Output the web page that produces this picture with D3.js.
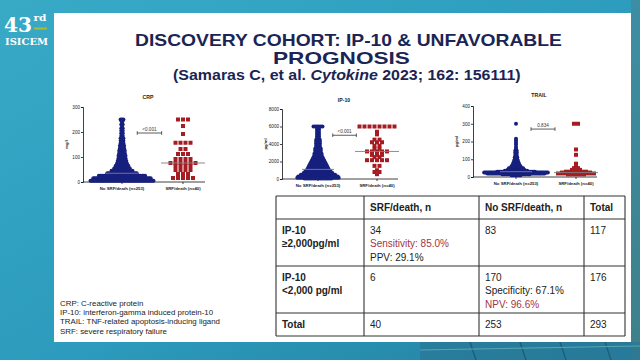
<!DOCTYPE html>
<html><head><meta charset="utf-8">
<script src="https://cdn.jsdelivr.net/npm/d3@7"></script>
<style>html,body{margin:0;padding:0;overflow:hidden;background:#2e9dbd}</style>
</head><body>
<svg id="c" width="640" height="360"></svg>
<script>
// ---------------- DATA ----------------
const groups = ["No SRF/death (n=253)", "SRF/death (n=40)"];
// [value, count]
const crpNoSrf = [[250,3],[245,2],[238,1],[230,2],[222,1],[215,2],[205,2],[195,2],[185,2],[175,3],[165,3],[155,3],[145,4],[135,4],[125,5],[115,5],[105,6],[95,6],[85,7],[75,8],[65,10],[55,12],[45,16],[35,22],[25,34],[15,42],[5,46]];
const crpSrf = [[250,3],[224,1],[192,1],[157,4],[132,2],[112,3],[92,4],[76,6],[64,4],[48,4],[32,3],[16,5]];
const ip10NoSrf = [[6000,6],[5900,2],[5700,2],[5500,2],[5300,2],[5100,2],[4900,2],[4700,2],[4500,3],[4300,3],[4100,3],[3900,3],[3700,3],[3500,4],[3300,4],[3100,4],[2900,5],[2700,5],[2500,6],[2300,7],[2100,8],[2000,5],[1900,9],[1700,10],[1500,11],[1300,12],[1100,13],[900,15],[700,17],[500,20],[300,23],[150,24],[50,16]];
const ip10Srf = [[6000,8],[5400,1],[5100,1],[4500,2],[4200,3],[3800,2],[3450,2],[3150,5],[2750,3],[2500,2],[2150,5],[1500,2],[1000,1],[800,2],[550,1]];
const trailNoSrf = [[300,1],[215,1],[205,1],[195,1],[185,1],[170,1],[160,1],[150,2],[140,2],[130,2],[120,2],[110,3],[100,3],[90,4],[80,5],[70,6],[60,8],[50,12],[45,10],[40,14],[35,18],[30,30],[25,50],[20,45],[15,22],[10,8]];
const trailSrf = [[300,2],[155,1],[125,1],[75,1],[65,1],[50,2],[40,3],[30,6],[25,8],[20,10],[15,5]];
const crpTicks = [0,100,200,300];
const ip10Ticks = [0,2000,4000,6000,8000];
const trailTicks = [0,100,200,300,400];
const pValues = ["<0.001","<0.001","0.834"];
const bracketLevels = [196, 5000, 270];
const chartTitles = ["CRP","IP-10","TRAIL"];
const units = ["mg/l","pg/ml","pg/ml"];

const tableHeader = ["", "SRF/death, n", "No SRF/death, n", "Total"];
const tableBody = [
  [["IP-10","≥2,000pg/ml"], ["34","Sensitivity: 85.0%","PPV: 29.1%"], ["83"], ["117"]],
  [["IP-10","<2,000 pg/ml"], ["6"], ["170","Specificity: 67.1%","NPV: 96.6%"], ["176"]],
  [["Total"], ["40"], ["253"], ["293"]]
];
const footnotes = ["CRP: C-reactive protein","IP-10: interferon-gamma induced protein-10","TRAIL: TNF-related apoptosis-inducing ligand","SRF: severe respiratory failure"];
const titleLines = ["DISCOVERY COHORT: IP-10 & UNFAVORABLE","PROGNOSIS"];

// ---------------- RENDER ----------------
const svg = d3.select("#c");
const FONT = "'Liberation Sans', Arial, sans-serif";
const defs = svg.append("defs");
const bg = defs.append("linearGradient").attr("id","bg").attr("x1","0").attr("y1","0").attr("x2","1").attr("y2","1");
bg.append("stop").attr("offset","0").attr("stop-color","#38aac6");
bg.append("stop").attr("offset","0.55").attr("stop-color","#2c9bbd");
bg.append("stop").attr("offset","1").attr("stop-color","#23809f");
const bg2 = defs.append("linearGradient").attr("id","bg2").attr("x1","0").attr("y1","0").attr("x2","0").attr("y2","1");
bg2.append("stop").attr("offset","0").attr("stop-color","#3c8ea4");
bg2.append("stop").attr("offset","1").attr("stop-color","#3f7f8a");

svg.append("rect").attr("width",640).attr("height",360).attr("fill","url(#bg)");
svg.append("rect").attr("x",631).attr("y",0).attr("width",9).attr("height",360).attr("fill","url(#bg2)");
// building hints bottom right
svg.append("rect").attr("x",420).attr("y",342).attr("width",220).attr("height",18).attr("fill","#2a7896").attr("opacity",0.7);
[470,520,560,605].forEach(xx=>svg.append("line").attr("x1",xx).attr("x2",xx+6).attr("y1",342).attr("y2",360).attr("stroke","#1d5f78").attr("stroke-width",1.5));
svg.append("line").attr("x1",420).attr("x2",640).attr("y1",350).attr("y2",346).attr("stroke","#5aa3b8").attr("stroke-width",1);

// logo
svg.append("text").attr("x",4).attr("y",32).attr("fill","#fff").attr("font-family","'DejaVu Serif', serif").attr("font-weight","bold").attr("font-size",21).attr("textLength",28).attr("lengthAdjust","spacingAndGlyphs").text("43");
svg.append("text").attr("x",33.5).attr("y",21).attr("fill","#fff").attr("font-family","'DejaVu Serif', serif").attr("font-weight","bold").attr("font-size",10).attr("textLength",13).attr("lengthAdjust","spacingAndGlyphs").text("rd");
svg.append("rect").attr("x",34).attr("y",27.5).attr("width",13).attr("height",2).attr("fill","#a7ba3c");
svg.append("text").attr("x",5).attr("y",44.5).attr("fill","#fff").attr("font-family","'DejaVu Serif', serif").attr("font-weight","bold").attr("font-size",10).attr("textLength",43).attr("lengthAdjust","spacingAndGlyphs").text("ISICEM");

// slide
svg.append("rect").attr("x",54).attr("y",13).attr("width",577).attr("height",329).attr("fill","#fff");

function fit(sel, x0, x1){
  const bb = sel.node().getBBox();
  const k = (x1-x0)/bb.width;
  sel.attr("transform",`translate(${x0},0) scale(${k},1) translate(${-bb.x},0)`);
}
const navyT = "#1b2553";
const t1 = svg.append("text").attr("x",0).attr("y",46).attr("fill",navyT).attr("font-family",FONT).attr("font-weight","bold").attr("font-size",16.5).text(titleLines[0]);
fit(t1,135,562);
const t2 = svg.append("text").attr("x",0).attr("y",64.5).attr("fill",navyT).attr("font-family",FONT).attr("font-weight","bold").attr("font-size",16.5).text(titleLines[1]);
fit(t2,273,410);
const t3 = svg.append("text").attr("x",0).attr("y",80.5).attr("fill",navyT).attr("font-family",FONT).attr("font-weight","bold").attr("font-size",14).attr("text-anchor","start");
t3.append("tspan").text("(Samaras C, et al. ");
t3.append("tspan").attr("font-style","italic").text("Cytokine");
t3.append("tspan").text(" 2023; 162: 156111)");
fit(t3,173,521);

// charts
const layouts = [
  {axisX:83, y0:182, y1:107, g:[122,183], xEnd:205, titleY:99, catY:189.5, sp:[1.4,5], sq:4},
  {axisX:282, y0:179, y1:109, g:[318,377], xEnd:398, titleY:102, catY:186.5, sp:[1.8,5], sq:4},
  {axisX:473, y0:177, y1:106, g:[516,576], xEnd:597, titleY:97, catY:184.5, sp:[1.3,4], sq:4}
];
const datasets = [[crpNoSrf,crpSrf],[ip10NoSrf,ip10Srf],[trailNoSrf,trailSrf]];
const tickSets = [crpTicks, ip10Ticks, trailTicks];
const NAVY = "#17207e", RED = "#a51d22";

layouts.forEach((L,i)=>{
  const ticks = tickSets[i];
  const y = d3.scaleLinear().domain([0, ticks[ticks.length-1]]).range([L.y0, L.y1]);
  const x = d3.scaleLinear().domain([0,1]).range(L.g);
  const g = svg.append("g");
  const ax = g.append("g").attr("transform",`translate(${L.axisX},0)`)
    .call(d3.axisLeft(y).tickValues(ticks).tickSize(2).tickPadding(1).tickFormat(d3.format("d")));
  ax.select(".domain").attr("stroke","#111").attr("stroke-width",0.8);
  ax.selectAll(".tick line").attr("stroke","#111").attr("stroke-width",0.8);
  ax.selectAll(".tick text").attr("font-size",4.6).attr("font-family",FONT).attr("fill","#222");
  g.append("line").attr("x1",L.axisX).attr("x2",L.xEnd).attr("y1",L.y0).attr("y2",L.y0).attr("stroke","#111").attr("stroke-width",0.8);
  [0,1].forEach(gi=>g.append("line").attr("x1",x(gi)).attr("x2",x(gi)).attr("y1",L.y0).attr("y2",L.y0+2).attr("stroke","#111").attr("stroke-width",0.8));
  g.append("text").attr("x",(L.axisX+L.xEnd)/2+4).attr("y",L.titleY).attr("text-anchor","middle").attr("font-family",FONT).attr("font-weight","bold").attr("font-size",5.2).attr("fill","#222").text(chartTitles[i]);
  g.append("text").attr("transform",`translate(${L.axisX-15},${(L.y0+L.y1)/2}) rotate(-90)`).attr("text-anchor","middle").attr("font-family",FONT).attr("font-weight","bold").attr("font-size",4.2).attr("fill","#222").text(units[i]);
  groups.forEach((lab,gi)=>g.append("text").attr("x",x(gi)).attr("y",L.catY).attr("text-anchor","middle").attr("font-family",FONT).attr("font-weight","bold").attr("font-size",4.3).attr("fill","#222").text(lab));

  datasets[i].forEach((bins,gi)=>{
    const pts = [];
    bins.forEach(([v,n])=>{ for(let k=0;k<n;k++) pts.push({v, dx:(k-(n-1)/2)*L.sp[gi]}); });
    const cx = x(gi);
    if(gi===0){
      g.append("g").selectAll("circle").data(pts).join("circle")
        .attr("cx",d=>cx+d.dx).attr("cy",d=>y(d.v)).attr("r",2).attr("fill",NAVY);
    } else {
      g.append("g").selectAll("rect").data(pts).join("rect")
        .attr("x",d=>cx+d.dx-L.sq/2).attr("y",d=>y(d.v)-L.sq/2).attr("width",L.sq).attr("height",L.sq).attr("fill",RED);
    }
    const vals = pts.map(p=>p.v);
    const med = d3.median(vals);
    const hw = gi===0 ? 16 : 22;
    g.append("line").attr("x1",cx-hw).attr("x2",cx+hw).attr("y1",y(med)).attr("y2",y(med)).attr("stroke","#808080").attr("stroke-width",0.9);
  });
  // significance bracket
  const by = y(bracketLevels[i]);
  const bx0 = x(0.25), bx1 = x(0.65);
  g.append("path").attr("d",`M${bx0},${by-1.8}V${by+1.8}M${bx0},${by}H${bx1}M${bx1},${by-1.8}V${by+1.8}`).attr("stroke","#333").attr("stroke-width",0.8).attr("fill","none");
  g.append("text").attr("x",(bx0+bx1)/2).attr("y",by-2.5).attr("text-anchor","middle").attr("font-family",FONT).attr("font-size",4.6).attr("fill","#333").text(pValues[i]);
});

// table
const colX = [276,364,479,584,625];
const rowY = [196,219,266,313,336];
const tg = svg.append("g");
colX.forEach(cx=>tg.append("line").attr("x1",cx).attr("x2",cx).attr("y1",rowY[0]).attr("y2",rowY[rowY.length-1]).attr("stroke","#333").attr("stroke-width",1.1));
rowY.forEach(ry=>tg.append("line").attr("x1",colX[0]).attr("x2",colX[colX.length-1]).attr("y1",ry).attr("y2",ry).attr("stroke","#333").attr("stroke-width",1.1));
tableHeader.forEach((h,ci)=>{ if(h) tg.append("text").attr("x",colX[ci]+6).attr("y",rowY[0]+15).attr("font-family",FONT).attr("font-weight","bold").attr("font-size",10).attr("fill","#222").text(h); });
tableBody.forEach((row,ri)=>{
  row.forEach((lines,ci)=>{
    lines.forEach((ln,li)=>{
      tg.append("text").attr("x",colX[ci]+6).attr("y",rowY[ri+1]+14.5+li*13.5)
        .attr("font-family",FONT).attr("font-size",10)
        .attr("font-weight",ci===0?"bold":"normal")
        .attr("fill",/^(Sensitivity|NPV)/.test(ln)?"#a3343f":"#222").text(ln);
    });
  });
});

// footnotes
footnotes.forEach((f,i)=>svg.append("text").attr("x",60).attr("y",305.5+i*9.4).attr("font-family",FONT).attr("font-size",7.9).attr("fill","#222").text(f));
</script>
</body></html>
